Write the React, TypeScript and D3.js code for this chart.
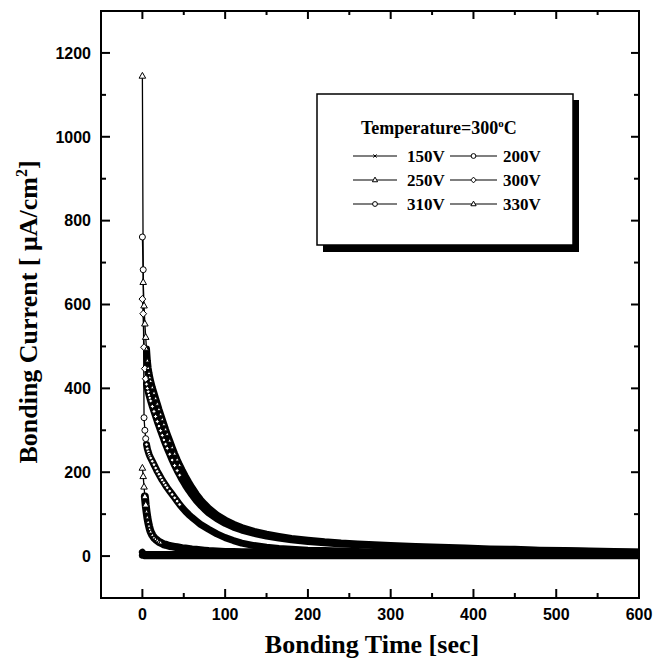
import React from 'react';
import * as d3 from 'd3';

// Bonding time [sec] shared by all series
const times = [0,1,2,3,4,5,6,7,8,9,10,12,14,16,18,20,22,24,26,28,30,33,36,39,42,45,48,52,56,60,65,70,75,80,90,100,110,120,135,150,165,180,200,220,240,260,280,300,330,360,390,420,450,480,510,540,570,600];

// Bonding current [uA/cm2] per voltage
const v150 = [2,1.5,1,1,1,1,1,1,1,1,1, 1,1,1,1,1,1,1,1,1,1, 1,1,1,1,1,1, 1,1,1, 1,1,1,1, 1,1,1,1, 1,1,1,1, 1,1,1,1,1,1, 1,1,1,1,1,1,1,1,1,1];
const v200 = [9,6,5,4,4,4,3.5,3.5,3.5,3.5,3.5, 3.5,3.5,3.5,3.5,3.5,3.5,3.5,3.5,3.5,3.5, 3.5,3.5,3.5,3.5,3.5,3.5, 3.5,3.5,3.5, 3.5,3.5,3.5,3.5, 3.5,3.5,3.5,3.5, 3.5,3.5,3.5,3.5, 3.5,3.5,3.5,3.5,3.5,3.5, 3.5,3.5,3.5,3.5,3.5,3.5,3.5,3.5,3.5,3.5];
const v250 = [210,190,165,142,122,106,92,81,72,64,58, 50,44,40,37,34,32,30,28,27,26, 24,23,22,21,20,19, 18,17,16, 15,14,13,12, 11,10,10,9, 9,8,8,8, 7,7,7,6,6,6, 6,5,5,5,5,5,4,4,4,4];
const v300 = [613,578,498,447,423,410,400,392,384,377,370, 357,345,333,321,310,299,288,277,267,257, 243,229,216,204,193,182, 169,157,146, 133,122,112,103, 89,78,69,62, 54,48,43,39, 35,32,29,27,25,23, 21,19,17,15,14,13,12,11,10,9];
const v310 = [761,683,330,300,280,266,256,249,243,238,234, 226,218,210,202,195,188,181,175,169,163, 155,147,139,131,123,116, 107,99,92, 84,76,70,64, 53,44,37,31, 25,21,18,16, 14,13,12,11,10,10, 9,8,8,7,7,6,6,6,5,5];
const v330 = [1145,653,597,554,522,494,466,448,436,426,417, 402,389,376,363,350,338,326,314,302,291, 275,259,244,230,217,205, 190,176,163, 148,135,124,114, 98,86,76,68, 59,52,47,42, 38,34,31,29,27,25, 23,21,19,17,16,14,13,12,11,10];

const seriesNames = ['150V','200V','250V','300V','310V','330V'];
const seriesMarkers = ['x','circle','triangle','diamond','circle','triangle'];
const seriesValues = [v150, v200, v250, v300, v310, v330];

const xMajor = [0,100,200,300,400,500,600];
const xMinor = [50,150,250,350,450,550];
const yMajor = [0,200,400,600,800,1000,1200];
const yMinor = [100,300,500,700,900,1100];

function Marker({ type, cx, cy, s = 1 }: { type: string; cx: number; cy: number; s?: number }) {
  const common = { fill: '#fff', stroke: '#000', strokeWidth: 1 / s };
  if (type === 'circle') return <circle cx={cx} cy={cy} r={3 * s} fill="#fff" stroke="#000" strokeWidth={1} />;
  if (type === 'triangle')
    return <path transform={`translate(${cx},${cy}) scale(${s})`} d="M0,-3.6L3.3,2.2L-3.3,2.2Z" {...common} />;
  if (type === 'diamond')
    return <path transform={`translate(${cx},${cy}) scale(${s})`} d="M0,-3.6L3.4,0L0,3.6L-3.4,0Z" {...common} />;
  return <path transform={`translate(${cx},${cy}) scale(${s})`} d="M-2,-2L2,2M-2,2L2,-2" fill="none" stroke="#000" strokeWidth={1 / s} />;
}

export default function App() {
  const x = d3.scaleLinear().domain([-50, 600]).range([101, 639]);
  const y = d3.scaleLinear().domain([-100, 1300]).range([598, 11]);
  const line = d3.line<[number, number]>().x(d => x(d[0])).y(d => y(d[1]));

  const series = seriesNames.map((name, i) => ({
    name,
    marker: seriesMarkers[i],
    pts: times.map((t, j) => [t, seriesValues[i][j]] as [number, number]),
    bandFrom: i < 2 ? 0 : i === 2 ? 3 : 5,
  }));

  const serif = "'Liberation Serif','Times New Roman',serif";
  const sans = "'Liberation Sans',Arial,sans-serif";
  const L = { x0: 317, y0: 94, w: 256, h: 151 };

  const legendRows = [
    [0, 1],
    [2, 3],
    [4, 5],
  ];

  return (
    <svg width={655} height={661} style={{ position: 'absolute', left: 0, top: 0, background: '#fff' }}>
      <rect x={0} y={0} width={655} height={661} fill="#fff" />
      <defs>
        <clipPath id="plot">
          <rect x={101} y={11} width={538} height={587} />
        </clipPath>
      </defs>

      {/* data */}
      <g clipPath="url(#plot)">
        {series.map(s => (
          <path key={s.name + 'thin'} d={line(s.pts) || ''} fill="none" stroke="#000" strokeWidth={1.3} />
        ))}
        {series.map(s => (
          <path
            key={s.name + 'band'}
            d={line(s.pts.filter(p => p[0] >= s.bandFrom)) || ''}
            fill="none"
            stroke="#000"
            strokeWidth={s.bandFrom === 3 ? 8 : 7}
            strokeLinejoin="round"
            strokeLinecap="round"
          />
        ))}
        {series.map(s =>
          s.pts
            .filter(p => p[0] < s.bandFrom || (s.bandFrom > 0 && p[0] < 5))
            .filter(p => p[1] > 22)
            .map((p, k) => <Marker key={s.name + 'a' + k} type={s.marker} cx={x(p[0])} cy={y(p[1])} />)
        )}
        {series.map(s =>
          s.pts
            .filter(p => p[0] >= 5 && p[0] <= 45 && p[1] > 30)
            .map((p, k) => <Marker key={s.name + 'b' + k} type={s.marker} cx={x(p[0])} cy={y(p[1])} s={0.6} />)
        )}
      </g>

      {/* frame */}
      <rect x={101} y={11} width={538} height={587} fill="none" stroke="#000" strokeWidth={2} />

      {/* x ticks */}
      {xMajor.map(v => (
        <g key={'xm' + v}>
          <line x1={x(v)} x2={x(v)} y1={598} y2={589} stroke="#000" strokeWidth={2} />
          <line x1={x(v)} x2={x(v)} y1={11} y2={19} stroke="#000" strokeWidth={2} />
          <text x={x(v)} y={620} textAnchor="middle" fontFamily={sans} fontWeight="bold" fontSize={16}>
            {v}
          </text>
        </g>
      ))}
      {xMinor.map(v => (
        <g key={'xn' + v}>
          <line x1={x(v)} x2={x(v)} y1={598} y2={593} stroke="#000" strokeWidth={2} />
          <line x1={x(v)} x2={x(v)} y1={11} y2={15} stroke="#000" strokeWidth={2} />
        </g>
      ))}
      {/* y ticks */}
      {yMajor.map(v => (
        <g key={'ym' + v}>
          <line x1={101} x2={110} y1={y(v)} y2={y(v)} stroke="#000" strokeWidth={2} />
          <line x1={639} x2={631} y1={y(v)} y2={y(v)} stroke="#000" strokeWidth={2} />
          <text x={91} y={y(v)} dy="0.36em" textAnchor="end" fontFamily={sans} fontWeight="bold" fontSize={16}>
            {v}
          </text>
        </g>
      ))}
      {yMinor.map(v => (
        <g key={'yn' + v}>
          <line x1={101} x2={106} y1={y(v)} y2={y(v)} stroke="#000" strokeWidth={2} />
          <line x1={639} x2={634} y1={y(v)} y2={y(v)} stroke="#000" strokeWidth={2} />
        </g>
      ))}

      {/* axis titles */}
      <text x={372} y={653} textAnchor="middle" fontFamily={serif} fontWeight="bold" fontSize={26}>
        Bonding Time [sec]
      </text>
      <text
        transform="translate(37,312) rotate(-90)"
        textAnchor="middle"
        fontFamily={serif}
        fontWeight="bold"
        fontSize={26}
      >
        Bonding Current [ μA/cm
        <tspan dy={-10} fontSize={16}>2</tspan>
        <tspan dy={10}>]</tspan>
      </text>

      {/* legend */}
      <rect x={L.x0 + 6} y={L.y0 + 6} width={L.w} height={L.h + 1} fill="#000" />
      <rect x={L.x0} y={L.y0} width={L.w} height={L.h} fill="#fff" stroke="#000" strokeWidth={1.5} />
      <text x={361} y={134} fontFamily={serif} fontWeight="bold" fontSize={18}>
        Temperature=300
        <tspan dy={-7} fontSize={11}>o</tspan>
        <tspan dy={7}>C</tspan>
      </text>
      {legendRows.map((row, r) =>
        row.map((si, c) => {
          const cy = 156 + r * 24;
          const lx0 = c === 0 ? 353 : 450;
          const lx1 = c === 0 ? 397 : 497;
          const tx = c === 0 ? 407 : 503;
          const s = series[si];
          return (
            <g key={'lg' + si}>
              <line x1={lx0} x2={lx1} y1={cy} y2={cy} stroke="#000" strokeWidth={1.2} />
              <Marker type={s.marker} cx={(lx0 + lx1) / 2} cy={cy} s={0.8} />
              <text x={tx} y={cy + 6} fontFamily={serif} fontWeight="bold" fontSize={17}>
                {s.name}
              </text>
            </g>
          );
        })
      )}
    </svg>
  );
}
